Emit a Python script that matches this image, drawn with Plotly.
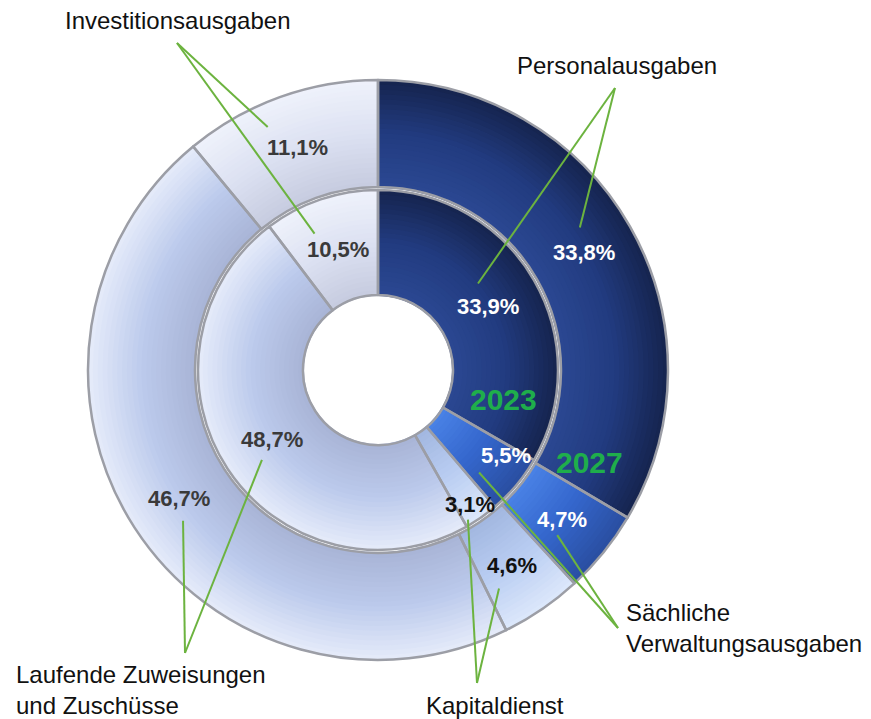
import math
import plotly.graph_objects as go

# ---------------- data ----------------
categories = ["Personalausgaben", "Sächliche Verwaltungsausgaben", "Kapitaldienst",
              "Laufende Zuweisungen und Zuschüsse", "Investitionsausgaben"]
values_2023 = [33.9, 5.5, 3.1, 48.7, 10.5]   # inner ring
values_2027 = [33.8, 4.7, 4.6, 46.7, 11.1]   # outer ring
labels_2023 = ["33,9%", "5,5%", "3,1%", "48,7%", "10,5%"]
labels_2027 = ["33,8%", "4,7%", "4,6%", "46,7%", "11,1%"]
years = ["2023", "2027"]

# ---------------- style ----------------
PAGE_OFF = 8                      # default body margin of the html page
FW, FH = 871, 719
CX, CY = 378, 370                 # pie centre in page px
R_OUT, R_MID_OUT = 290, 183
R_IN, R_HOLE = 180, 75
# radial colour stops per slice: (inner edge, middle, outer edge)
slice_stops = [
    ("#2b4892", "#223b80", "#15244e"),
    ("#4a82e6", "#3466cc", "#2a4ea0"),
    ("#a2b7e0", "#b9cdf2", "#dde8fb"),
    ("#a8b4d6", "#bccaec", "#e6ecfa"),
    ("#c6cbdf", "#dce1f2", "#eff2fb"),
]
text_colors = ["white", "white", "#111111", "#3a3a3a", "#3a3a3a"]
GREEN_LINE = "#6cb33f"
GREEN_TXT = "#1fae4b"
BORDER = "#9c9ea6"
FONT = "Liberation Sans, Arial, sans-serif"
N_BANDS = 22


def px2paper(x, y):
    return (x - PAGE_OFF) / FW, 1 - (y - PAGE_OFF) / FH


def polar(theta_deg, r):
    t = math.radians(theta_deg)
    return CX + r * math.sin(t), CY - r * math.cos(t)


def mid_angles(vals):
    tot = sum(vals)
    out, acc = [], 0.0
    for v in vals:
        out.append((acc + v / 2) / tot * 360)
        acc += v
    return out


def end_angle(vals, i):
    return sum(vals[: i + 1]) / sum(vals) * 360


def hex2rgb(h):
    h = h.lstrip("#")
    return [int(h[i:i + 2], 16) for i in (0, 2, 4)]


def interp(stops, t):
    a, b, c = (hex2rgb(s) for s in stops)
    if t < 0.5:
        u = t / 0.5
        col = [a[i] + (b[i] - a[i]) * u for i in range(3)]
    else:
        u = (t - 0.5) / 0.5
        col = [b[i] + (c[i] - b[i]) * u for i in range(3)]
    return "rgb(%d,%d,%d)" % tuple(int(round(v)) for v in col)


def domain_for(r):
    x0, y1 = px2paper(CX - r, CY - r)
    x1, y0 = px2paper(CX + r, CY + r)
    return dict(x=[x0, x1], y=[y0, y1])


fig = go.Figure()

for vals, r_in, r_out in [(values_2027, R_MID_OUT, R_OUT), (values_2023, R_HOLE, R_IN)]:
    # gradient bands (outermost first)
    for k in reversed(range(N_BANDS)):
        ra = r_in + (r_out - r_in) * k / N_BANDS
        rb = r_in + (r_out - r_in) * (k + 1) / N_BANDS
        t = (k + 0.5) / N_BANDS
        fig.add_trace(go.Pie(
            values=vals, labels=categories, sort=False, direction="clockwise", rotation=0,
            hole=max(0, (ra - 1) / rb), domain=domain_for(rb),
            marker=dict(colors=[interp(s, t) for s in slice_stops], line=dict(width=0)),
            textinfo="none", hoverinfo="skip", showlegend=False,
        ))
    # borders on top
    fig.add_trace(go.Pie(
        values=vals, labels=categories, sort=False, direction="clockwise", rotation=0,
        hole=r_in / r_out, domain=domain_for(r_out),
        marker=dict(colors=["rgba(0,0,0,0)"] * len(vals), line=dict(color=BORDER, width=2.5)),
        textinfo="none", hoverinfo="label+percent", showlegend=False,
    ))

annotations = []
shapes = []

# percentage labels placed at slice mid-angles
nudge_in = {1: (-6, 154), 2: (0.7, 163)}
nudge_out = {}
lab_pos_in, lab_pos_out = [], []
for i, th in enumerate(mid_angles(values_2023)):
    dth, r = nudge_in.get(i, (0, 127))
    p = polar(th + dth, r)
    lab_pos_in.append(p)
    xp, yp = px2paper(*p)
    annotations.append(dict(x=xp, y=yp, xref="paper", yref="paper", text=f"<b>{labels_2023[i]}</b>",
                            showarrow=False, xanchor="center", yanchor="middle",
                            font=dict(family=FONT, size=22, color=text_colors[i])))
for i, th in enumerate(mid_angles(values_2027)):
    dth, r = nudge_out.get(i, (0, 237))
    p = polar(th + dth, r)
    lab_pos_out.append(p)
    xp, yp = px2paper(*p)
    annotations.append(dict(x=xp, y=yp, xref="paper", yref="paper", text=f"<b>{labels_2027[i]}</b>",
                            showarrow=False, xanchor="center", yanchor="middle",
                            font=dict(family=FONT, size=22,
                                      color="#111111" if i == 2 else text_colors[i])))

# year labels inside the Personal slice near its end
for yr, (vals, r, back) in zip(years, [(values_2023, 129, 17), (values_2027, 231, 7)]):
    th = end_angle(vals, 0) - back
    xp, yp = px2paper(*polar(th, r))
    annotations.append(dict(x=xp, y=yp, xref="paper", yref="paper", text=f"<b>{yr}</b>",
                            showarrow=False, xanchor="center", yanchor="middle",
                            font=dict(family=FONT, size=30, color=GREEN_TXT)))

# category call-outs: (text, anchor px, xanchor, line start px, slice idx, offsets to inner/outer labels)
callouts = [
    ("Investitionsausgaben", (178, 20), "center", (177, 43), 4, (-23, -16), (-30, -20)),
    ("Personalausgaben", (617, 65), "center", (615, 88), 0, (-10, -23), (-4, -25)),
    ("Laufende Zuweisungen<br>und Zuschüsse", (14, 690), "left", (185, 653), 3, (-10, 20), (4, 22)),
    ("Kapitaldienst", (495, 705), "center", (477, 683), 2, (-2, 15), (-13, 23)),
    ("Sächliche<br>Verwaltungsausgaben", (624, 628), "left", (618, 628), 1, (-27, 17), (-5, 16)),
]
for text, (ax, ay), xa, (sx, sy), idx, off_in, off_out in callouts:
    xp, yp = px2paper(ax, ay)
    annotations.append(dict(x=xp, y=yp, xref="paper", yref="paper", text=text, showarrow=False,
                            xanchor=xa, yanchor="middle", align="left",
                            font=dict(family=FONT, size=24, color="#111111")))
    for (lx, ly), (ox, oy) in [(lab_pos_in[idx], off_in), (lab_pos_out[idx], off_out)]:
        a = px2paper(sx, sy)
        b = px2paper(lx + ox, ly + oy)
        shapes.append(dict(type="line", xref="paper", yref="paper", x0=a[0], y0=a[1], x1=b[0], y1=b[1],
                           line=dict(color=GREEN_LINE, width=2)))

fig.update_layout(
    width=FW, height=FH, margin=dict(l=0, r=0, t=0, b=0),
    paper_bgcolor="white", plot_bgcolor="white",
    annotations=annotations, shapes=shapes, showlegend=False,
)
fig.write_html("out.html")
